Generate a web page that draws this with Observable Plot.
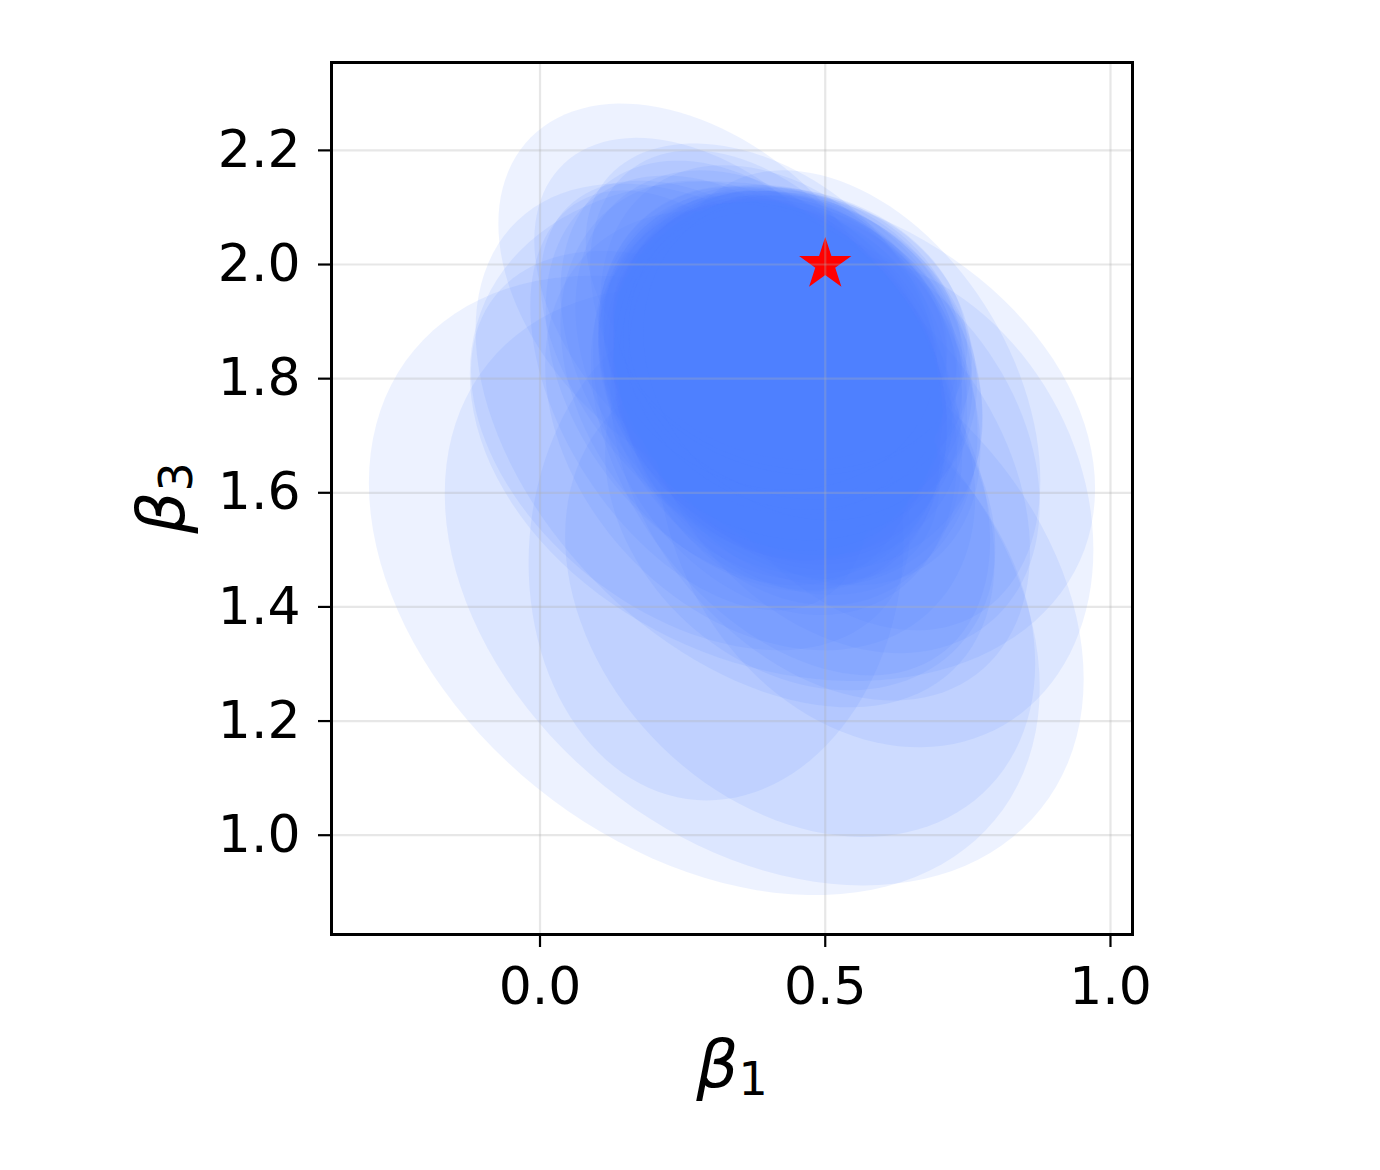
<!DOCTYPE html>
<html>
<head>
<meta charset="utf-8">
<script src="https://cdn.jsdelivr.net/npm/d3@7"></script>
<script src="https://cdn.jsdelivr.net/npm/@observablehq/plot@0.6"></script>
<style>
  html, body { margin: 0; padding: 0; background: #ffffff; }
  #chart { width: 1380px; height: 1170px; }
</style>
</head>
<body>
<div id="chart"></div>
<script>
// ---- Data: confidence ellipses (centre, spread and correlation per ellipse) ----
const centerB1 = [
  0.288, 0.393, 0.425, 0.281, 0.316, 0.386, 0.342, 0.309, 0.456, 0.588, 0.264,
  0.491, 0.439, 0.386, 0.526, 0.351, 0.456, 0.281, 0.544,
  0.351, 0.377, 0.386, 0.334, 0.439, 0.369,
  0.430, 0.421, 0.439, 0.412, 0.448, 0.430, 0.404, 0.456, 0.421, 0.439,
  0.412, 0.448, 0.395, 0.465, 0.430, 0.421, 0.439, 0.404, 0.448, 0.430,
  0.412, 0.456, 0.421, 0.439, 0.404, 0.465, 0.430, 0.412
];
const centerB3 = [
  1.438, 1.436, 1.708, 1.937, 1.895, 1.939, 1.683, 1.499, 1.412, 1.587, 1.674,
  1.639, 1.674, 1.709, 1.692, 1.797, 1.587, 1.762, 1.762,
  1.832, 1.823, 1.867, 1.797, 1.806, 1.787,
  1.837, 1.867, 1.806, 1.845, 1.775, 1.880, 1.823, 1.832, 1.775, 1.865,
  1.756, 1.802, 1.841, 1.784, 1.873, 1.833, 1.747, 1.867, 1.793, 1.837,
  1.809, 1.857, 1.771, 1.888, 1.803, 1.837, 1.823, 1.778
];
const spreadB1 = [
  0.588, 0.560, 0.548, 0.354, 0.326, 0.306, 0.455, 0.329, 0.412, 0.382, 0.385,
  0.368, 0.350, 0.377, 0.350, 0.350, 0.342, 0.298, 0.333,
  0.315, 0.315, 0.298, 0.324, 0.333, 0.333,
  0.301, 0.292, 0.310, 0.284, 0.319, 0.284, 0.301, 0.310, 0.292, 0.301,
  0.319, 0.292, 0.284, 0.310, 0.301, 0.319, 0.301, 0.292, 0.328, 0.284,
  0.310, 0.301, 0.292, 0.310, 0.301, 0.284, 0.328, 0.301
];
const spreadB3 = [
  0.543, 0.524, 0.438, 0.345, 0.327, 0.273, 0.459, 0.438, 0.415, 0.433, 0.350,
  0.403, 0.394, 0.385, 0.373, 0.350, 0.333, 0.368, 0.403,
  0.350, 0.342, 0.333, 0.359, 0.368, 0.360,
  0.293, 0.254, 0.332, 0.267, 0.354, 0.223, 0.315, 0.289, 0.319, 0.269,
  0.370, 0.311, 0.280, 0.346, 0.242, 0.307, 0.344, 0.262, 0.328, 0.267,
  0.327, 0.269, 0.341, 0.248, 0.304, 0.285, 0.306, 0.331
];
const corr = [
  -0.33, -0.31, -0.23, -0.39, -0.45, -0.38, -0.44, 0.05, -0.27, -0.20, -0.40,
  -0.35, -0.40, -0.30, -0.30, -0.50, -0.25, -0.45, -0.35,
  -0.35, -0.30, -0.40, -0.35, -0.35, -0.30,
  -0.15, -0.12, -0.18, -0.10, -0.20, -0.12, -0.22, -0.15, -0.18, -0.10,
  -0.25, -0.15, -0.20, -0.14, -0.16, -0.13, -0.22, -0.11, -0.19, -0.14,
  -0.24, -0.10, -0.17, -0.13, -0.21, -0.15, -0.12, -0.18
];
const trueB1 = [0.5];
const trueB3 = [2.0];
const xTicks = [0.0, 0.5, 1.0];
const yTicks = [1.0, 1.2, 1.4, 1.6, 1.8, 2.0, 2.2];

// ---- Build ellipse outlines from the parameters ----
const steps = 120;
const rows = [];
centerB1.forEach((cx, i) => {
  const cy = centerB3[i], sx = spreadB1[i], sy = spreadB3[i], r = corr[i];
  const q = Math.sqrt(1 - r * r);
  for (let k = 0; k < steps; k++) {
    const t = 2 * Math.PI * k / steps;
    rows.push({id: i, x: cx + sx * Math.cos(t), y: cy + sy * (r * Math.cos(t) + q * Math.sin(t))});
  }
});
const truth = trueB1.map((v, i) => ({x: v, y: trueB3[i]}));

const plot = Plot.plot({
  width: 1380,
  height: 1170,
  marginLeft: 331,
  marginRight: 248,
  marginTop: 62,
  marginBottom: 236,
  style: {fontFamily: "DejaVu Sans", background: "#ffffff", color: "#000000"},
  x: {domain: [-0.3655, 1.0386], label: null},
  y: {domain: [0.826, 2.354], label: null},
  marks: [
    Plot.line(rows, {x: "x", y: "y", z: "id", curve: "linear-closed",
      fill: "#4d80ff", fillOpacity: 0.1, stroke: "none", clip: true}),
    Plot.dot(truth, {x: "x", y: "y", symbol: "star", r: 15, fill: "#ff0000", stroke: "#ff0000", strokeWidth: 1.5}),
    Plot.gridX(xTicks, {stroke: "#b0b0b0", strokeOpacity: 0.3, strokeWidth: 2.2}),
    Plot.gridY(yTicks, {stroke: "#b0b0b0", strokeOpacity: 0.3, strokeWidth: 2.2}),
    Plot.frame({stroke: "#000000", strokeWidth: 3}),
    Plot.axisX(xTicks, {tickSize: 13, tickPadding: 20, strokeWidth: 2.2, fontSize: 52,
      tickFormat: d3.format(".1f"), label: null}),
    Plot.axisY(yTicks, {tickSize: 13, tickPadding: 18, strokeWidth: 2.2, fontSize: 52,
      tickFormat: d3.format(".1f"), label: null})
  ]
});

document.getElementById("chart").appendChild(plot);

// ---- Axis labels with mathematical subscripts ----
const svg = d3.select(plot);
const xl = svg.append("text")
  .attr("x", 732).attr("y", 1087)
  .attr("text-anchor", "middle")
  .attr("font-family", "DejaVu Sans")
  .attr("fill", "#000000");
xl.append("tspan").attr("font-style", "italic").attr("font-size", 66).text("β");
xl.append("tspan").attr("font-size", 46).attr("dy", 8).text("1");

const yl = svg.append("text")
  .attr("transform", "translate(184,498) rotate(-90)")
  .attr("text-anchor", "middle")
  .attr("font-family", "DejaVu Sans")
  .attr("fill", "#000000");
yl.append("tspan").attr("font-style", "italic").attr("font-size", 66).text("β");
yl.append("tspan").attr("font-size", 46).attr("dy", 8).text("3");
</script>
</body>
</html>
